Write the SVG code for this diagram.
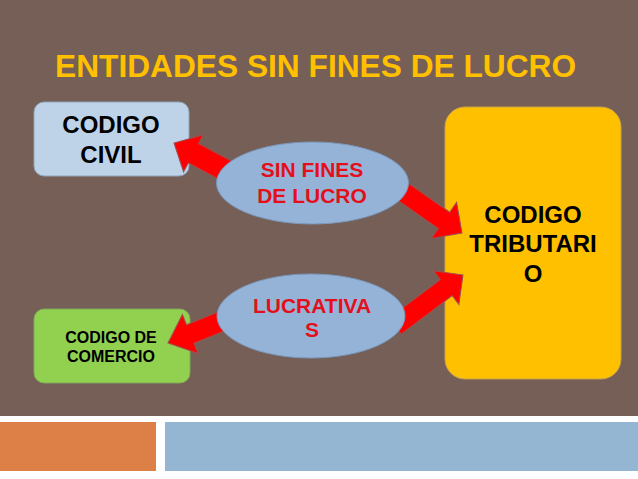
<svg xmlns="http://www.w3.org/2000/svg" width="638" height="479" viewBox="0 0 638 479">
<style>
.bold{font-family:"Liberation Sans",Arial,sans-serif;font-weight:bold;text-anchor:middle}
.dark{fill:#000}
.red{fill:#E3101B}
.arrow{fill:#FF0000;stroke:#A0504F;stroke-width:1;stroke-linejoin:miter}
.ell{fill:#95B3D7;stroke:#7A97BC;stroke-width:1}
</style>
<rect x="0" y="0" width="638" height="479" fill="#FFFFFF"/>
<rect x="0" y="0" width="638" height="416" fill="#765F56"/>
<rect x="0" y="422" width="156" height="49" fill="#DD8047"/>
<rect x="165" y="422" width="473" height="49" fill="#94B6D2"/>
<text x="55" y="77" font-family="Liberation Sans, Arial, sans-serif" font-weight="bold" font-size="31.7" fill="#FFC000">ENTIDADES SIN FINES DE LUCRO</text>

<g id="codigo-civil">
<rect x="34" y="102" width="155" height="74" rx="10" fill="#BED3E8" stroke="#8FA5BD" stroke-width="1"/>
<text class="bold dark" font-size="24" x="111" y="133">CODIGO</text>
<text class="bold dark" font-size="24" x="111" y="163">CIVIL</text>
</g>
<g id="codigo-comercio">
<rect x="34" y="309" width="156" height="74" rx="10" fill="#92D050" stroke="#7FA85A" stroke-width="1"/>
<text class="bold dark" font-size="16" x="111" y="343">CODIGO DE</text>
<text class="bold dark" font-size="16" x="111" y="362">COMERCIO</text>
</g>
<g id="codigo-tributario">
<rect x="445" y="107" width="176" height="272" rx="20" fill="#FFC000" stroke="#C9A24A" stroke-width="1"/>
<text class="bold dark" font-size="24" x="533" y="223">CODIGO</text>
<text class="bold dark" font-size="24" x="533" y="252">TRIBUTARI</text>
<text class="bold dark" font-size="24" x="533" y="282">O</text>
</g>

<g id="connectors">
<path class="arrow" transform="translate(174,143) rotate(208)" d="M0,0 L-22,-21 L-22,-11 L-80,-11 L-80,11 L-22,11 L-22,21 Z"/>
<path class="arrow" transform="translate(462,233) rotate(35)" d="M0,0 L-22,-22 L-22,-10 L-90,-10 L-90,10 L-22,10 L-22,22 Z"/>
<path class="arrow" transform="translate(463,275) rotate(-37)" d="M0,0 L-21,-21 L-21,-10 L-85,-10 L-85,10 L-21,10 L-21,21 Z"/>
<path class="arrow" transform="translate(168,343) rotate(158)" d="M0,0 L-24,-21 L-24,-10 L-65,-10 L-65,10 L-24,10 L-24,21 Z"/>
</g>

<g id="sin-fines">
<ellipse class="ell" cx="312.5" cy="183" rx="96" ry="41"/>
<text class="bold red" font-size="21" x="312" y="177">SIN FINES</text>
<text class="bold red" font-size="21" x="312" y="203">DE LUCRO</text>
</g>
<g id="lucrativas">
<ellipse class="ell" cx="311" cy="316" rx="94" ry="42"/>
<text class="bold red" font-size="21" x="312" y="313">LUCRATIVA</text>
<text class="bold red" font-size="21" x="312" y="337">S</text>
</g>
</svg>
